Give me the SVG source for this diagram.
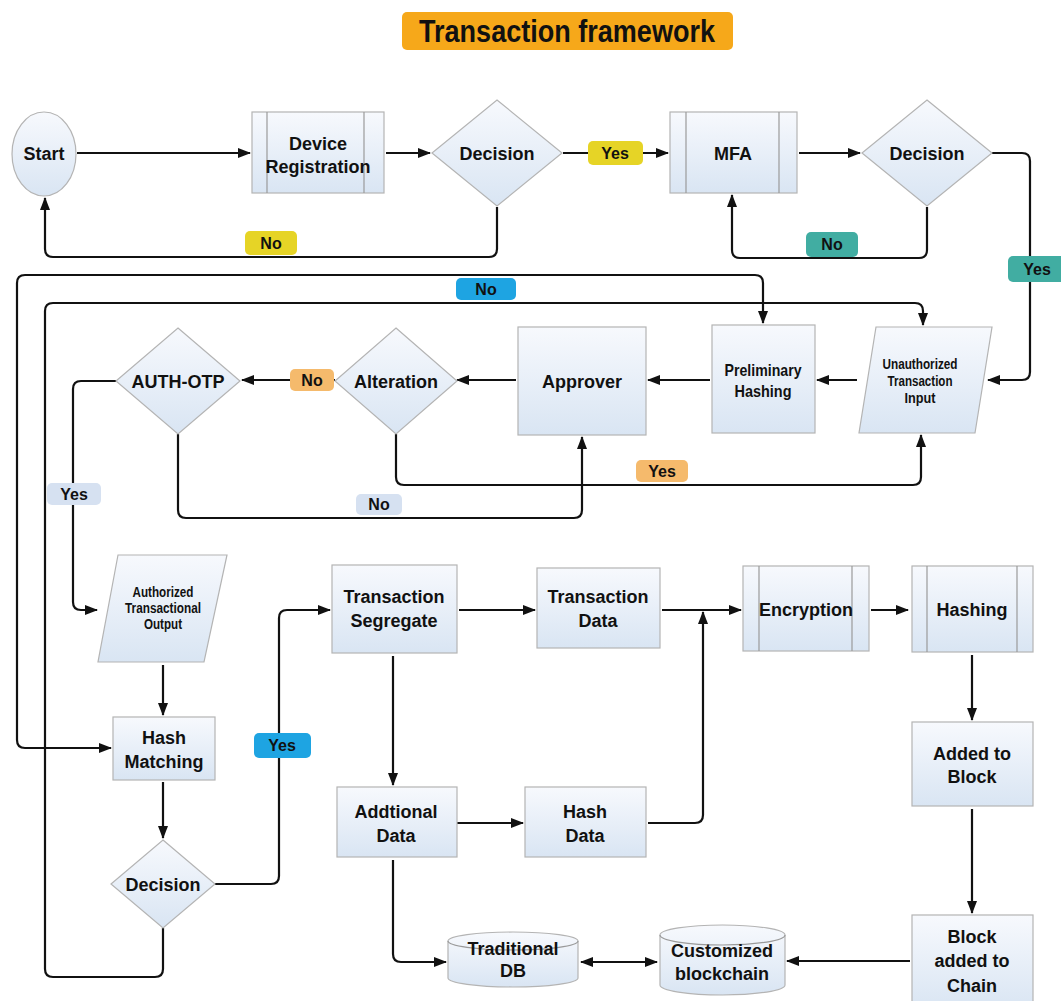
<svg xmlns="http://www.w3.org/2000/svg" width="1061" height="1001" viewBox="0 0 1061 1001">
  <defs>
    <linearGradient id="fillGrad" x1="0" y1="0" x2="0" y2="1">
      <stop offset="0" stop-color="#f7f9fd"/>
      <stop offset="1" stop-color="#d9e5f3"/>
    </linearGradient>
    <marker id="arrow" viewBox="0 0 13 10" refX="12" refY="5" markerWidth="13" markerHeight="10" markerUnits="userSpaceOnUse" orient="auto-start-reverse">
      <path d="M0 0 L13 5 L0 10 Z" fill="#111"/>
    </marker>
    <style>
      .node { fill: url(#fillGrad); stroke: #b4b4b4; stroke-width: 1.2; }
      .inner { stroke: #9a9a9a; stroke-width: 1.2; fill: none; }
      .t { font-family: "Liberation Sans", Arial, sans-serif; font-weight: bold; fill: #111; text-anchor: middle; font-size: 18px; }
      .sm { font-size: 14px; }
      .md { font-size: 17px; }
      .conn path { fill: none; stroke: #111; stroke-width: 2.2; }
      .lbl text { font-family: "Liberation Sans", Arial, sans-serif; font-weight: bold; fill: #111; text-anchor: middle; font-size: 16px; }
      .yellow { fill: #e6d426; }
      .teal { fill: #41ada2; }
      .blue { fill: #1ea4e2; }
      .orange { fill: #f5ba6c; }
      .light { fill: #d6e1f1; }
    </style>
  </defs>

  <rect width="1061" height="1001" fill="#ffffff"/>

  <!-- Title -->
  <g id="title">
    <rect x="402" y="12" width="331" height="38" rx="5" fill="#f6a81a"/>
    <text x="567" y="42" font-family="Liberation Sans, Arial, sans-serif" font-weight="bold" font-size="31" fill="#111" text-anchor="middle" textLength="296" lengthAdjust="spacingAndGlyphs">Transaction framework</text>
  </g>

  <!-- Connectors -->
  <g id="connectors" class="conn">
    <path d="M77 153 H250" marker-end="url(#arrow)"/>
    <path d="M386 153 H430" marker-end="url(#arrow)"/>
    <path d="M563 153 H668" marker-end="url(#arrow)"/>
    <path d="M799 153 H860" marker-end="url(#arrow)"/>
    <path d="M497 207 V249 Q497 257 489 257 H53 Q45 257 45 249 V198" marker-end="url(#arrow)"/>
    <path d="M927 207 V250 Q927 258 919 258 H740 Q732 258 732 250 V195" marker-end="url(#arrow)"/>
    <path d="M992 153 H1022 Q1030 153 1030 161 V372 Q1030 380 1022 380 H988" marker-end="url(#arrow)"/>
    <path d="M763 323 V283 Q763 275 755 275 H25 Q17 275 17 283 V740 Q17 748 25 748 H111" marker-start="url(#arrow)" marker-end="url(#arrow)"/>
    <path d="M163 928 V969 Q163 977 155 977 H53 Q45 977 45 969 V311 Q45 303 53 303 H915 Q923 303 923 311 V325" marker-end="url(#arrow)"/>
    <path d="M857 380 H817" marker-end="url(#arrow)"/>
    <path d="M710 380 H648" marker-end="url(#arrow)"/>
    <path d="M516 380 H457" marker-end="url(#arrow)"/>
    <path d="M335 380 H242" marker-end="url(#arrow)"/>
    <path d="M116 381 H81 Q73 381 73 389 V602 Q73 610 81 610 H97" marker-end="url(#arrow)"/>
    <path d="M178 434 V510 Q178 518 186 518 H574 Q582 518 582 510 V437" marker-end="url(#arrow)"/>
    <path d="M396 434 V477 Q396 485 404 485 H913 Q921 485 921 477 V435" marker-end="url(#arrow)"/>
    <path d="M163 665 V715" marker-end="url(#arrow)"/>
    <path d="M163 782 V838" marker-end="url(#arrow)"/>
    <path d="M215 884 H271 Q279 884 279 876 V618 Q279 610 287 610 H330" marker-end="url(#arrow)"/>
    <path d="M459 610 H535" marker-end="url(#arrow)"/>
    <path d="M393 656 V785" marker-end="url(#arrow)"/>
    <path d="M457 823 H523" marker-end="url(#arrow)"/>
    <path d="M393 860 V954 Q393 962 401 962 H446" marker-end="url(#arrow)"/>
    <path d="M662 610 H741" marker-end="url(#arrow)"/>
    <path d="M648 823 H695 Q703 823 703 815 V612" marker-end="url(#arrow)"/>
    <path d="M871 610 H908" marker-end="url(#arrow)"/>
    <path d="M972 655 V720" marker-end="url(#arrow)"/>
    <path d="M972 809 V913" marker-end="url(#arrow)"/>
    <path d="M910 961 H787" marker-end="url(#arrow)"/>
    <path d="M581 962 H657" marker-start="url(#arrow)" marker-end="url(#arrow)"/>
  </g>

  <!-- Nodes -->
  <g id="start">
    <ellipse class="node" cx="44" cy="154" rx="32" ry="42"/>
    <text class="t" x="44" y="160">Start</text>
  </g>
  <g id="device-registration">
    <rect class="node" x="252" y="112" width="132" height="81"/>
    <line class="inner" x1="267" y1="112" x2="267" y2="193"/>
    <line class="inner" x1="364" y1="112" x2="364" y2="193"/>
    <text class="t" x="318" y="150">Device</text>
    <text class="t" x="318" y="173">Registration</text>
  </g>
  <g id="decision-device">
    <polygon class="node" points="497,100 562,153 497,206 432,153"/>
    <text class="t" x="497" y="160">Decision</text>
  </g>
  <g id="mfa">
    <rect class="node" x="670" y="112" width="127" height="81"/>
    <line class="inner" x1="686" y1="112" x2="686" y2="193"/>
    <line class="inner" x1="779" y1="112" x2="779" y2="193"/>
    <text class="t" x="733" y="160">MFA</text>
  </g>
  <g id="decision-mfa">
    <polygon class="node" points="927,100 992,153 927,206 862,153"/>
    <text class="t" x="927" y="160">Decision</text>
  </g>
  <g id="auth-otp">
    <polygon class="node" points="178,328 240,381 178,434 116,381"/>
    <text class="t" x="178" y="388" font-size="17">AUTH-OTP</text>
  </g>
  <g id="alteration">
    <polygon class="node" points="396,328 457,381 396,434 335,381"/>
    <text class="t" x="396" y="388">Alteration</text>
  </g>
  <g id="approver">
    <rect class="node" x="518" y="327" width="128" height="108"/>
    <text class="t" x="582" y="388">Approver</text>
  </g>
  <g id="preliminary-hashing">
    <rect class="node" x="712" y="325" width="103" height="108"/>
    <text class="t md" x="763" y="376" textLength="77" lengthAdjust="spacingAndGlyphs">Preliminary</text>
    <text class="t md" x="763" y="397" textLength="57" lengthAdjust="spacingAndGlyphs">Hashing</text>
  </g>
  <g id="unauthorized-input">
    <polygon class="node" points="876,327 992,327 975,433 859,433"/>
    <text class="t sm" x="920" y="369" textLength="75" lengthAdjust="spacingAndGlyphs">Unauthorized</text>
    <text class="t sm" x="920" y="386" textLength="65" lengthAdjust="spacingAndGlyphs">Transaction</text>
    <text class="t sm" x="920" y="403" textLength="31" lengthAdjust="spacingAndGlyphs">Input</text>
  </g>
  <g id="authorized-output">
    <polygon class="node" points="118,555 227,555 204,662 98,662"/>
    <text class="t sm" x="163" y="597" textLength="61" lengthAdjust="spacingAndGlyphs">Authorized</text>
    <text class="t sm" x="163" y="613" textLength="76" lengthAdjust="spacingAndGlyphs">Transactional</text>
    <text class="t sm" x="163" y="629" textLength="38" lengthAdjust="spacingAndGlyphs">Output</text>
  </g>
  <g id="hash-matching">
    <rect class="node" x="113" y="717" width="102" height="63"/>
    <text class="t" x="164" y="744">Hash</text>
    <text class="t" x="164" y="768">Matching</text>
  </g>
  <g id="decision-hash">
    <polygon class="node" points="163,840 215,884 163,928 111,884"/>
    <text class="t" x="163" y="891">Decision</text>
  </g>
  <g id="transaction-segregate">
    <rect class="node" x="332" y="565" width="125" height="88"/>
    <text class="t" x="394" y="603">Transaction</text>
    <text class="t" x="394" y="627">Segregate</text>
  </g>
  <g id="transaction-data">
    <rect class="node" x="537" y="568" width="123" height="80"/>
    <text class="t" x="598" y="603">Transaction</text>
    <text class="t" x="598" y="627">Data</text>
  </g>
  <g id="encryption">
    <rect class="node" x="743" y="566" width="126" height="85"/>
    <line class="inner" x1="759" y1="566" x2="759" y2="651"/>
    <line class="inner" x1="852" y1="566" x2="852" y2="651"/>
    <text class="t" x="806" y="616">Encryption</text>
  </g>
  <g id="hashing">
    <rect class="node" x="912" y="566" width="121" height="86"/>
    <line class="inner" x1="927" y1="566" x2="927" y2="652"/>
    <line class="inner" x1="1017" y1="566" x2="1017" y2="652"/>
    <text class="t" x="972" y="616">Hashing</text>
  </g>
  <g id="additional-data">
    <rect class="node" x="337" y="787" width="120" height="70"/>
    <text class="t" x="396" y="818">Addtional</text>
    <text class="t" x="396" y="842">Data</text>
  </g>
  <g id="hash-data">
    <rect class="node" x="525" y="787" width="121" height="70"/>
    <text class="t" x="585" y="818">Hash</text>
    <text class="t" x="585" y="842">Data</text>
  </g>
  <g id="added-to-block">
    <rect class="node" x="912" y="722" width="121" height="84"/>
    <text class="t" x="972" y="760">Added to</text>
    <text class="t" x="972" y="783">Block</text>
  </g>
  <g id="block-added-to-chain">
    <rect class="node" x="912" y="915" width="121" height="95"/>
    <text class="t" x="972" y="943">Block</text>
    <text class="t" x="972" y="967">added to</text>
    <text class="t" x="972" y="992">Chain</text>
  </g>
  <g id="traditional-db">
    <path class="node" d="M448 941 A65 9 0 0 1 578 941 V978 A65 9 0 0 1 448 978 Z"/>
    <path class="inner" d="M448 941 A65 9 0 0 0 578 941" stroke="#b4b4b4"/>
    <text class="t" x="513" y="955">Traditional</text>
    <text class="t" x="513" y="977">DB</text>
  </g>
  <g id="customized-blockchain">
    <path class="node" d="M660 935 A62.5 10 0 0 1 785 935 V985 A62.5 10 0 0 1 660 985 Z"/>
    <path class="inner" d="M660 935 A62.5 10 0 0 0 785 935" stroke="#b4b4b4"/>
    <text class="t" x="722" y="957">Customized</text>
    <text class="t" x="722" y="980">blockchain</text>
  </g>

  <!-- Edge labels -->
  <g id="labels" class="lbl">
    <rect class="yellow" x="588" y="141" width="55" height="24" rx="5"/>
    <text x="615" y="159">Yes</text>
    <rect class="yellow" x="245" y="231" width="52" height="24" rx="5"/>
    <text x="271" y="249">No</text>
    <rect class="teal" x="806" y="232" width="52" height="25" rx="5"/>
    <text x="832" y="250">No</text>
    <rect class="teal" x="1008" y="256" width="62" height="26" rx="5"/>
    <text x="1037" y="275">Yes</text>
    <rect class="blue" x="456" y="278" width="60" height="22" rx="5"/>
    <text x="486" y="295">No</text>
    <rect class="orange" x="290" y="369" width="44" height="22" rx="5"/>
    <text x="312" y="386">No</text>
    <rect class="orange" x="636" y="460" width="52" height="22" rx="5"/>
    <text x="662" y="477">Yes</text>
    <rect class="light" x="356" y="494" width="46" height="21" rx="5"/>
    <text x="379" y="510">No</text>
    <rect class="light" x="47" y="483" width="54" height="22" rx="5"/>
    <text x="74" y="500">Yes</text>
    <rect class="blue" x="254" y="733" width="57" height="25" rx="5"/>
    <text x="282" y="751">Yes</text>
  </g>
</svg>
